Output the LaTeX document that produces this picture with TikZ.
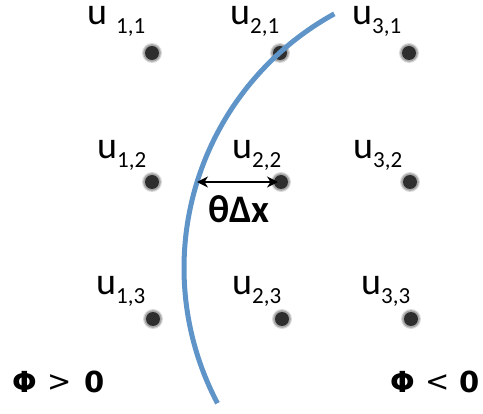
\documentclass[tikz,border=0pt]{standalone}
\usepackage{fontspec}
\setmainfont{Carlito}
\newfontfamily\djv{DejaVu Sans}
\usetikzlibrary{arrows.meta}
\begin{document}
\begin{tikzpicture}[x=1pt,y=-1pt,
  dot/.style={circle,fill=black!82,inner sep=0pt,minimum size=14pt},
  halo/.style={fill=black!#1},
  ulab/.style={anchor=base west,inner sep=0pt,font=\fontsize{38}{40}\selectfont},
  sgn/.style={anchor=base west,inner sep=0pt,font=\djv\fontsize{29}{30}\selectfont},
  curve/.style={line width=5pt,color=curveblue,line cap=butt},
  measure/.style={line width=2.4pt,{Stealth[length=11pt,width=11pt]}-{Stealth[length=11pt,width=11pt]}}
]
\definecolor{curveblue}{RGB}{94,148,200}
\useasboundingbox (0,0) rectangle (483,414);
\newcommand{\usub}[1]{\raisebox{-9pt}{\fontsize{23}{24}\selectfont #1}}
% labels
\node[ulab] (l11) at (87,25) {u\hspace{9pt}\usub{1,1}};
\node[ulab] (l21) at (230,25) {u\usub{2,1}};
\node[ulab] (l31) at (352,25) {u\usub{3,1}};
\node[ulab] (l12) at (97,159) {u\usub{1,2}};
\node[ulab] (l22) at (232,159) {u\usub{2,2}};
\node[ulab] (l32) at (353,159) {u\usub{3,2}};
\node[ulab] (l13) at (96,295) {u\usub{1,3}};
\node[ulab] (l23) at (232,295) {u\usub{2,3}};
\node[ulab] (l33) at (361,295) {u\usub{3,3}};
% dots with soft edge
\foreach \p in {(152,53),(280,53),(409,53),(152,182),(281,182),(410,182),(153,319),(282,319),(411,319)}{
  \fill[halo=15] \p circle[radius=10];
  \fill[halo=35] \p circle[radius=8.8];
}
\node[dot] (d11) at (152,53) {};
\node[dot] (d21) at (280,53) {};
\node[dot] (d31) at (409,53) {};
\node[dot] (d12) at (152,182) {};
\node[dot] (d22) at (281,182) {};
\node[dot] (d32) at (410,182) {};
\node[dot] (d13) at (153,319) {};
\node[dot] (d23) at (282,319) {};
\node[dot] (d33) at (411,319) {};
% curve (circular arc)
\draw[curve] plot[domain=118.8:207.8,samples=80,smooth] ({474+290*cos(\x)},{268-290*sin(\x)});
% measurement
\coordinate (cpt) at (197,182);
\coordinate (dpt) at (278,182);
\draw[measure] (cpt) -- (dpt);
\node[anchor=base,inner sep=0pt,font=\fontsize{39}{40}\selectfont\bfseries] (tdx) at (239,223) {θΔx};
% signs
\node[sgn] (pos1) at (12,393) {\bfseries Φ};
\node[sgn] (pos2) at (47,392) {>};
\node[sgn] (pos3) at (84,393) {\bfseries 0};
\node[sgn] (neg1) at (390,393) {\bfseries Φ};
\node[sgn] (neg2) at (425,392) {<};
\node[sgn] (neg3) at (459,393) {\bfseries 0};
\end{tikzpicture}
\end{document}
